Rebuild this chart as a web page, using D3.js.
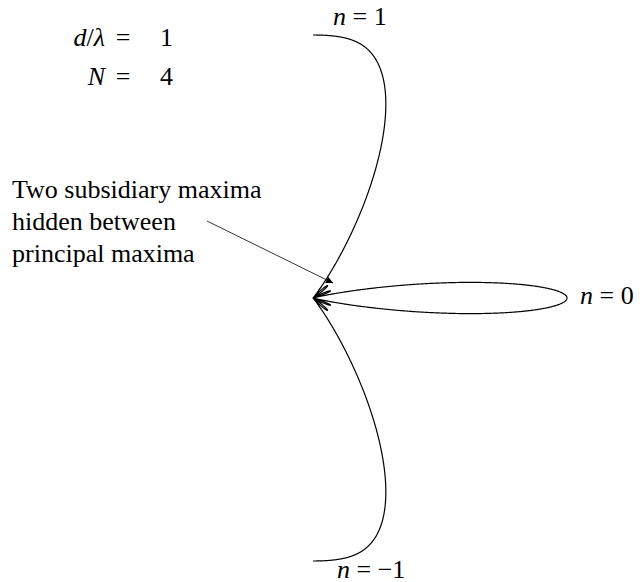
<!DOCTYPE html>
<html>
<head>
<meta charset="utf-8">
<script src="https://cdn.jsdelivr.net/npm/d3@7"></script>
<style>
  html, body { margin: 0; padding: 0; background: #fff; }
</style>
</head>
<body>
<svg id="chart" width="642" height="582"></svg>
<script>
// Grating parameters shown in the top-left corner
const paramNames = ["d/λ", "N"];
const paramValues = [1, 4];

// Diffraction orders labelled around the polar pattern
const orderNames = ["n", "n", "n"];
const orderValues = ["1", "0", "−1"];

// Annotation text
const noteLines = ["Two subsidiary maxima", "hidden between", "principal maxima"];

const dOverLambda = paramValues[0];
const N = paramValues[1];

// Normalised N-slit intensity at angle theta (radians)
function intensity(theta) {
  const phi = 2 * Math.PI * dOverLambda * Math.sin(theta);
  const den = N * Math.sin(phi / 2);
  if (Math.abs(den) < 1e-12) return 1;
  const a = Math.sin(N * phi / 2) / den;
  return a * a;
}

const FONT = "'Liberation Serif', 'Times New Roman', Times, 'DejaVu Serif', serif";
const fs = 26;

const svg = d3.select("#chart")
  .attr("font-family", FONT)
  .style("font-family", FONT);

// Polar pattern scales: x along the grating normal, y along the grating
const x = d3.scaleLinear().domain([0, 1]).range([313, 567]);
const y = d3.scaleLinear().domain([-1, 1]).range([561, 35]);

const thetas = d3.range(-90, 90.0001, 0.05).map(d => d * Math.PI / 180);
const pts = thetas.map(t => {
  const r = intensity(t);
  return [r * Math.cos(t), r * Math.sin(t)];
});

svg.append("path")
  .datum(pts)
  .attr("fill", "none")
  .attr("stroke", "#000")
  .attr("stroke-width", 1.2)
  .attr("stroke-linejoin", "round")
  .attr("d", d3.line().x(d => x(d[0])).y(d => y(d[1])));

// Parameter block
const pBase = [46, 85];
const pg = svg.append("g").attr("font-size", fs).attr("fill", "#000");
paramNames.forEach((name, i) => {
  const t = pg.append("text").attr("x", 105).attr("y", pBase[i]).attr("text-anchor", "end");
  if (name === "d/λ") {
    t.append("tspan").attr("font-style", "italic").text("d");
    t.append("tspan").text("/");
    t.append("tspan").attr("font-style", "italic").text("λ");
  } else {
    t.append("tspan").attr("font-style", "italic").text(name);
  }
  pg.append("text").attr("x", 123).attr("y", pBase[i]).attr("text-anchor", "middle").text("=");
  pg.append("text").attr("x", 160).attr("y", pBase[i]).text(paramValues[i]);
});

// Order labels: top, right, bottom
const labelPos = [[333, 25], [580, 304], [337, 578]];
orderNames.forEach((nm, i) => {
  const t = svg.append("text")
    .attr("font-size", fs)
    .attr("x", labelPos[i][0]).attr("y", labelPos[i][1]);
  t.append("tspan").attr("font-style", "italic").text(nm);
  t.append("tspan").text(" = " + orderValues[i]);
});

// Annotation
const ng = svg.append("g").attr("font-size", fs);
noteLines.forEach((line, i) => {
  ng.append("text").attr("x", 12).attr("y", 198 + i * 32).text(line);
});

svg.append("defs").append("marker")
  .attr("id", "head")
  .attr("viewBox", "0 0 10 10")
  .attr("refX", 10).attr("refY", 5)
  .attr("markerWidth", 9).attr("markerHeight", 7)
  .attr("markerUnits", "userSpaceOnUse")
  .attr("orient", "auto")
  .append("path").attr("d", "M0,0 L10,5 L0,10 z").attr("fill", "#000");

svg.append("line")
  .attr("x1", 207).attr("y1", 221)
  .attr("x2", 333).attr("y2", 283)
  .attr("stroke", "#000")
  .attr("stroke-width", 0.8)
  .attr("marker-end", "url(#head)");
</script>
</body>
</html>
